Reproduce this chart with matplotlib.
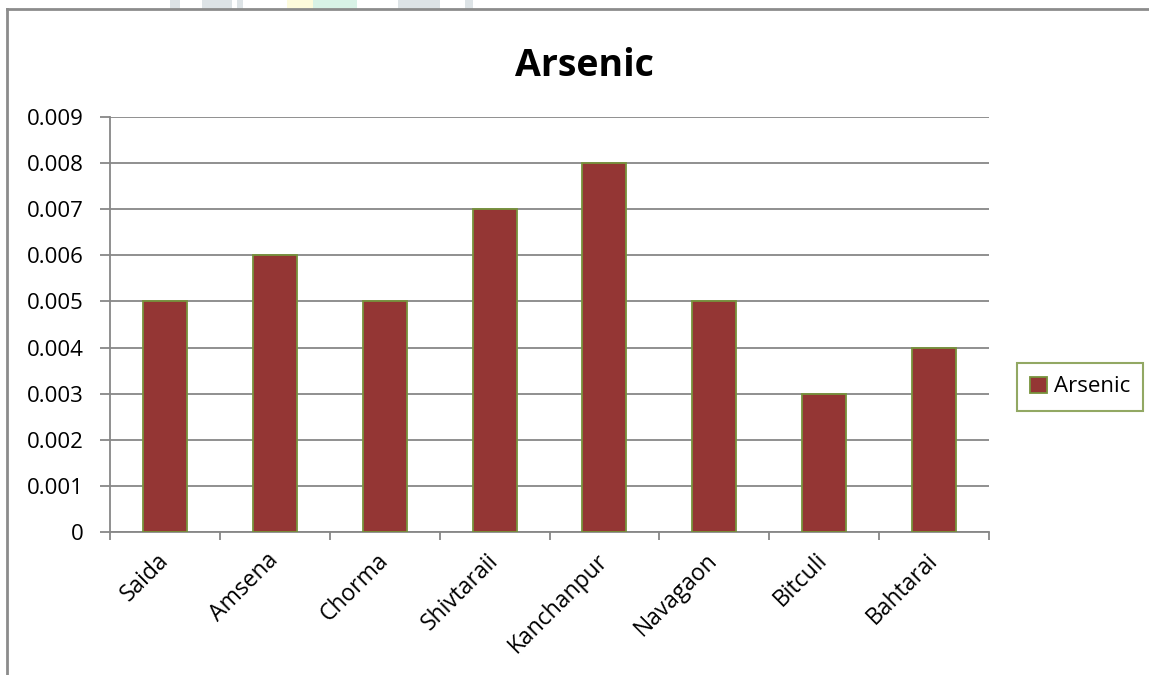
import matplotlib
matplotlib.use("Agg")
import matplotlib.pyplot as plt
from matplotlib.lines import Line2D
from matplotlib.patches import Rectangle

sites = ["Saida", "Amsena", "Chorma", "Shivtaraii", "Kanchanpur", "Navagaon", "Bitculi", "Bahtarai"]
arsenic = [0.005, 0.006, 0.005, 0.007, 0.008, 0.005, 0.003, 0.004]
yticks = [0, 0.001, 0.002, 0.003, 0.004, 0.005, 0.006, 0.007, 0.008, 0.009]

BAR = "#943634"
EDGE = "#77933C"
GRID = "#878787"

plt.rcParams["font.family"] = ["Open Sans", "DejaVu Sans"]

W, H = 1149, 675
fig = plt.figure(figsize=(W / 100, H / 100), dpi=100)

# faint page watermark peeking above the chart frame
for x0, x1, col in [(170, 180, "#dde3e6"), (202, 232, "#dde3e6"), (237, 243, "#dde3e6"),
                    (287, 313, "#fdfbdc"), (313, 357, "#d8f2e6"), (398, 410, "#dde3e6"),
                    (410, 440, "#dde3e6"), (465, 473, "#dde3e6")]:
    fig.add_artist(Rectangle((x0 / W, 1 - 9 / H), (x1 - x0) / W, 9 / H, facecolor=col,
                             edgecolor="none", transform=fig.transFigure))

ax = fig.add_axes([110 / W, 1 - 532 / H, (989 - 110) / W, (532 - 117) / H])

x = list(range(len(sites)))
ax.bar(x, arsenic, width=0.4, color=BAR, edgecolor=EDGE, linewidth=1.3,
       label="Arsenic", zorder=3)

ax.set_xlim(-0.5, len(sites) - 0.5)
ax.set_ylim(0, 0.009)
ax.set_yticks(yticks)
ax.set_yticklabels(["0"] + [f"{v:.3f}" for v in yticks[1:]], fontsize=16)
ax.yaxis.grid(True, color=GRID, linewidth=1.3, zorder=0)

# category labels sit between boundary ticks
ax.set_xticks([i - 0.5 for i in range(len(sites) + 1)])
ax.set_xticklabels([])
ax.set_xticks(x, minor=True)
ax.set_xticklabels(sites, minor=True, rotation=45, ha="right", va="center",
                   rotation_mode="anchor", fontsize=16.5)
ax.tick_params(axis="x", which="minor", length=0, pad=18)
ax.tick_params(axis="x", which="major", length=6, width=1.3, color=GRID, direction="out")
ax.tick_params(axis="y", length=7, width=1.3, color=GRID, direction="out", pad=12)

for side in ("top", "right"):
    ax.spines[side].set_visible(False)
for side in ("left", "bottom"):
    ax.spines[side].set_color(GRID)
    ax.spines[side].set_linewidth(1.3)

fig.text(584 / W, 1 - 76 / H, "Arsenic", ha="center", va="baseline",
         fontsize=27, fontweight="bold")

handle = [Rectangle((0, 0), 1, 1, facecolor=BAR, edgecolor=EDGE, linewidth=1.3)]
leg = fig.legend(handle, ["Arsenic"], loc="center left",
                 bbox_to_anchor=(1017 / W, 1 - 387 / H), fontsize=16, frameon=True,
                 fancybox=False, handlelength=0.75, handleheight=0.75, handletextpad=0.3,
                 borderpad=0.6, borderaxespad=0)
leg.get_frame().set_edgecolor(EDGE)
leg.get_frame().set_linewidth(1.5)

# outer chart frame
fig.add_artist(Line2D([7 / W, 7 / W], [0, 1 - 9 / H], color="#8c8c8c", linewidth=2,
                      transform=fig.transFigure))
fig.add_artist(Line2D([7 / W, 1], [1 - 9 / H, 1 - 9 / H], color="#8c8c8c", linewidth=2,
                      transform=fig.transFigure))

fig.savefig("out.png", dpi=100)
